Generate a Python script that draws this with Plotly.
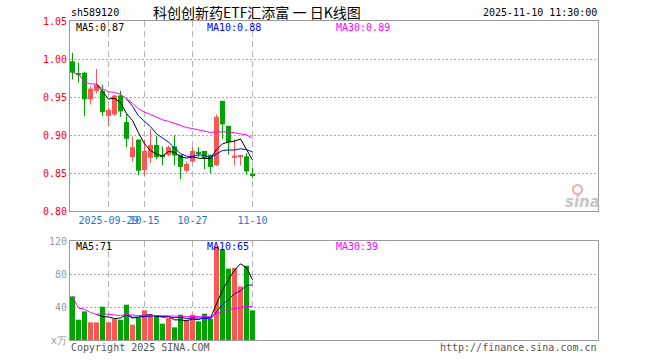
import plotly.graph_objects as go

# ---------------- data ----------------
dates = ["2025-09-19", "2025-09-22", "2025-09-23", "2025-09-24", "2025-09-25", "2025-09-26",
         "2025-09-29", "2025-09-30", "2025-10-09", "2025-10-10", "2025-10-13", "2025-10-14",
         "2025-10-15", "2025-10-16", "2025-10-17", "2025-10-20", "2025-10-21", "2025-10-22",
         "2025-10-23", "2025-10-24", "2025-10-27", "2025-10-28", "2025-10-29", "2025-10-30",
         "2025-10-31", "2025-11-03", "2025-11-04", "2025-11-05", "2025-11-06", "2025-11-07",
         "2025-11-10"]
opens = [0.997, 0.980, 0.982, 0.947, 0.958, 0.958, 0.925, 0.927, 0.952, 0.917, 0.871,
         0.894, 0.854, 0.870, 0.887, 0.874, 0.874, 0.885, 0.874, 0.853, 0.865, 0.878,
         0.879, 0.874, 0.860, 0.945, 0.912, 0.870, 0.872, 0.872, 0.848]
highs = [1.008, 0.995, 0.983, 0.964, 0.987, 0.966, 0.936, 0.953, 0.958, 0.928, 0.898,
         0.894, 0.894, 0.908, 0.899, 0.885, 0.886, 0.900, 0.874, 0.865, 0.884, 0.884,
         0.879, 0.874, 0.927, 0.945, 0.912, 0.895, 0.874, 0.876, 0.857]
lows = [0.973, 0.969, 0.925, 0.940, 0.955, 0.925, 0.912, 0.925, 0.924, 0.884, 0.865,
        0.847, 0.846, 0.863, 0.868, 0.860, 0.872, 0.860, 0.842, 0.851, 0.864, 0.871,
        0.855, 0.850, 0.859, 0.895, 0.874, 0.860, 0.860, 0.848, 0.843]
closes = [0.982, 0.979, 0.947, 0.961, 0.966, 0.930, 0.933, 0.952, 0.931, 0.895, 0.884,
          0.853, 0.879, 0.887, 0.871, 0.871, 0.884, 0.873, 0.858, 0.862, 0.879, 0.876,
          0.869, 0.858, 0.924, 0.914, 0.890, 0.873, 0.873, 0.852, 0.847]
volumes = [52.9, 24.6, 34.7, 21.4, 21.4, 40.4, 21.4, 25.5, 24.6, 42.8, 18.6, 26.7, 36.0,
           30.7, 29.5, 19.8, 26.7, 15.4, 30.7, 23.8, 30.7, 22.6, 31.9, 25.5, 113.5, 109.5,
           86.5, 87.3, 65.0, 90.0, 36.0]

tick_dates = ["2025-09-29", "2025-10-15", "2025-10-27", "2025-11-10"]
tick_text = ["2025-09-29", "10-15", "10-27", "11-10"]
price_ticks = [0.80, 0.85, 0.90, 0.95, 1.00, 1.05]
vol_ticks = [0, 40, 80, 120]
vol_tick_text = ["x万", "40", "80", "120"]
price_ma_labels = ["MA5:0.87", "MA10:0.88", "MA30:0.89"]
vol_ma_labels = ["MA5:71", "MA10:65", "MA30:39"]
title_text = "科创创新药ETF汇添富 一 日K线图"
code_text = "sh589120"
time_text = "2025-11-10 11:30:00"

# ---------------- helpers ----------------
W, H = 660, 360
def px(v):
    return v / W
def py(v):
    return 1 - v / H

RED = "#ff5555"
GREEN = "#00a400"
MA_COLORS = ["#000000", "#0000ff", "#ff00ff"]
MONO = "DejaVu Sans Mono"
FRAME = "#9a9a9a"

def ma(vals, k, expanding=False):
    out = []
    for i in range(len(vals)):
        if i + 1 >= k:
            out.append(sum(vals[i + 1 - k:i + 1]) / k)
        elif expanding:
            out.append(sum(vals[:i + 1]) / (i + 1))
        else:
            out.append(None)
    return out

n = len(dates)
x = list(range(n))
up = [c >= o for o, c in zip(opens, closes)]
colors = [RED if u else GREEN for u in up]
min_body = 0.05 / 38 * 1.0
body_base = [min(o, c) for o, c in zip(opens, closes)]
body_h = [max(abs(c - o), min_body) for o, c in zip(opens, closes)]
tickvals = [dates.index(d) for d in tick_dates]

slot = 6.0
x_left = (70 - 72.5) / slot
x_right = (598 - 72.5) / slot
body_w = 5 / slot

fig = go.Figure()

# wicks
for flag, col in [(True, RED), (False, GREEN)]:
    wx, wy = [], []
    for i in range(n):
        if up[i] == flag:
            wx += [x[i], x[i], None]
            wy += [lows[i], highs[i], None]
    fig.add_trace(go.Scatter(x=wx, y=wy, mode="lines", line=dict(color=col, width=1),
                             hoverinfo="skip", xaxis="x", yaxis="y"))

# bodies
fig.add_trace(go.Bar(x=x, y=body_h, base=body_base, width=body_w, marker_color=colors,
                     marker_line_width=0, xaxis="x", yaxis="y"))

# price MAs
for (k, exp), col in zip([(5, False), (10, False), (30, True)], MA_COLORS):
    fig.add_trace(go.Scatter(x=x, y=ma(closes, k, exp), mode="lines",
                             line=dict(color=col, width=1), xaxis="x", yaxis="y"))

# volume bars
fig.add_trace(go.Bar(x=x, y=volumes, width=body_w, marker_color=colors,
                     marker_line_width=0, xaxis="x2", yaxis="y2"))
for (k, exp), col in zip([(5, False), (10, False), (30, True)], MA_COLORS):
    fig.add_trace(go.Scatter(x=x, y=ma(volumes, k, exp), mode="lines",
                             line=dict(color=col, width=1), xaxis="x2", yaxis="y2"))

xdom = [px(70), px(598)]
common_x = dict(domain=xdom, range=[x_left, x_right], tickvals=tickvals, showgrid=True,
                gridcolor="#b4b4b4", griddash="6px,4px", gridwidth=1, showline=True,
                linecolor=FRAME, linewidth=1, mirror=True, ticks="", zeroline=False,
                fixedrange=True, automargin=False)

fig.update_layout(
    width=W, height=H, margin=dict(l=0, r=0, t=0, b=0, autoexpand=False),
    paper_bgcolor="white", plot_bgcolor="white", showlegend=False,
    xaxis=dict(common_x, anchor="y", ticktext=tick_text, tickangle=0,
               tickfont=dict(family=MONO, size=10, color="#1a78d0")),
    yaxis=dict(domain=[py(211), py(21)], range=[0.80, 1.05], tickvals=price_ticks,
               ticktext=["%.2f" % t for t in price_ticks],
               tickfont=dict(family=MONO, size=10, color="#ff0000"),
               showgrid=True, gridcolor="#a8a8a8", griddash="2px,2px", showline=True,
               linecolor=FRAME, mirror=True, ticks="", zeroline=False, anchor="x",
               automargin=False),
    xaxis2=dict(common_x, anchor="y2", showticklabels=False),
    yaxis2=dict(domain=[py(340), py(241)], range=[0, 120], tickvals=vol_ticks,
                ticktext=vol_tick_text,
                tickfont=dict(family=MONO, size=10, color="#9a9a9a"),
                showgrid=True, gridcolor="#a8a8a8", griddash="2px,2px", showline=True,
                linecolor=FRAME, mirror=True, ticks="", zeroline=False, anchor="x2",
                automargin=False),
)

ann = []
def text(t, xp, yp, anchor="left", size=10, color="#000", family=MONO, **kw):
    ann.append(dict(text=t, x=px(xp), y=py(yp), xref="paper", yref="paper",
                    xanchor=anchor, yanchor="middle", showarrow=False,
                    font=dict(family=family, size=size, color=color, **kw)))

text(code_text, 69, 13)
text(title_text, 257, 12, anchor="center", size=14, family="Noto Sans CJK SC")
text(time_text, 599, 13, anchor="right")
for lbl, xp, col in zip(price_ma_labels, [74, 205, 334], MA_COLORS):
    text(lbl, xp, 28, color=col)
for lbl, xp, col in zip(vol_ma_labels, [74, 205, 334], MA_COLORS):
    text(lbl, xp, 246, color=col)
text("Copyright 2025 SINA.COM", 69, 347, color="#555555")
text("http://finance.sina.com.cn", 599, 347, anchor="right", color="#555555")
text("sina", 582, 202, anchor="center", size=15, color="#c6c6c6",
     family="DejaVu Sans", weight="bold", style="italic")
fig.update_layout(annotations=ann)

fig.add_shape(type="circle", xref="paper", yref="paper",
              x0=px(573), x1=px(582), y0=py(194), y1=py(185),
              line=dict(color="#f2a8a8", width=2))

fig.write_html("out.html", config={"displayModeBar": False},
               post_script="document.body.style.margin='0';")
